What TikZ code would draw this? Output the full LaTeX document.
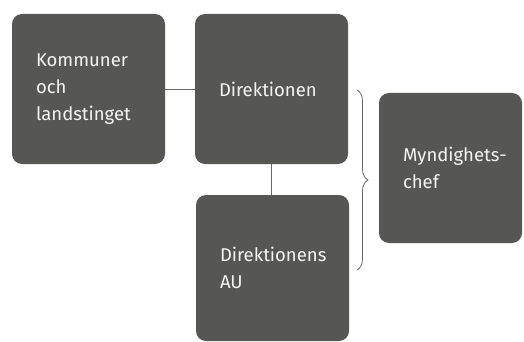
\documentclass[tikz,border=0pt]{standalone}
\usepackage{fontspec}
\setmainfont{Fira Sans}
\usetikzlibrary{decorations.pathreplacing}
\definecolor{boxgray}{HTML}{565655}
\definecolor{boxtext}{HTML}{F4F4F4}
\begin{document}
\begin{tikzpicture}[x=1pt,y=-1pt,
  box/.style={fill=boxgray,draw=none,rounded corners=10pt,text=boxtext,align=left,
    text width=#1,inner xsep=24pt,inner ysep=0pt,minimum height=150pt,
    font=\fontsize{18.5}{27}\selectfont,
    execute at begin node={\hyphenpenalty10000\exhyphenpenalty10000\relax}},
  link/.style={draw=boxgray!90,line width=.8pt}]
\useasboundingbox (0,0) rectangle (524,342);
\node[box=105pt] (komm) at (88.5,89) {Kommuner\\och\\landstinget};
\node[box=105pt] (dir) at (271.5,89) {Direktionen};
\node[box=105pt,minimum height=146pt] (au) at (272.5,268) {Direktionens\\AU};
\node[box=95pt] (chef) at (450.5,168) {\mbox{Myndighets-}\\chef};
\draw[link] (komm) -- (dir);
\draw[link] (dir.south) -- (dir.south |- au.north);
\coordinate (bt) at (357,90);
\coordinate (bb) at (357,270);
\draw[link,decorate,decoration={brace,amplitude=11pt}] (bt) -- (bb);
\end{tikzpicture}
\end{document}
